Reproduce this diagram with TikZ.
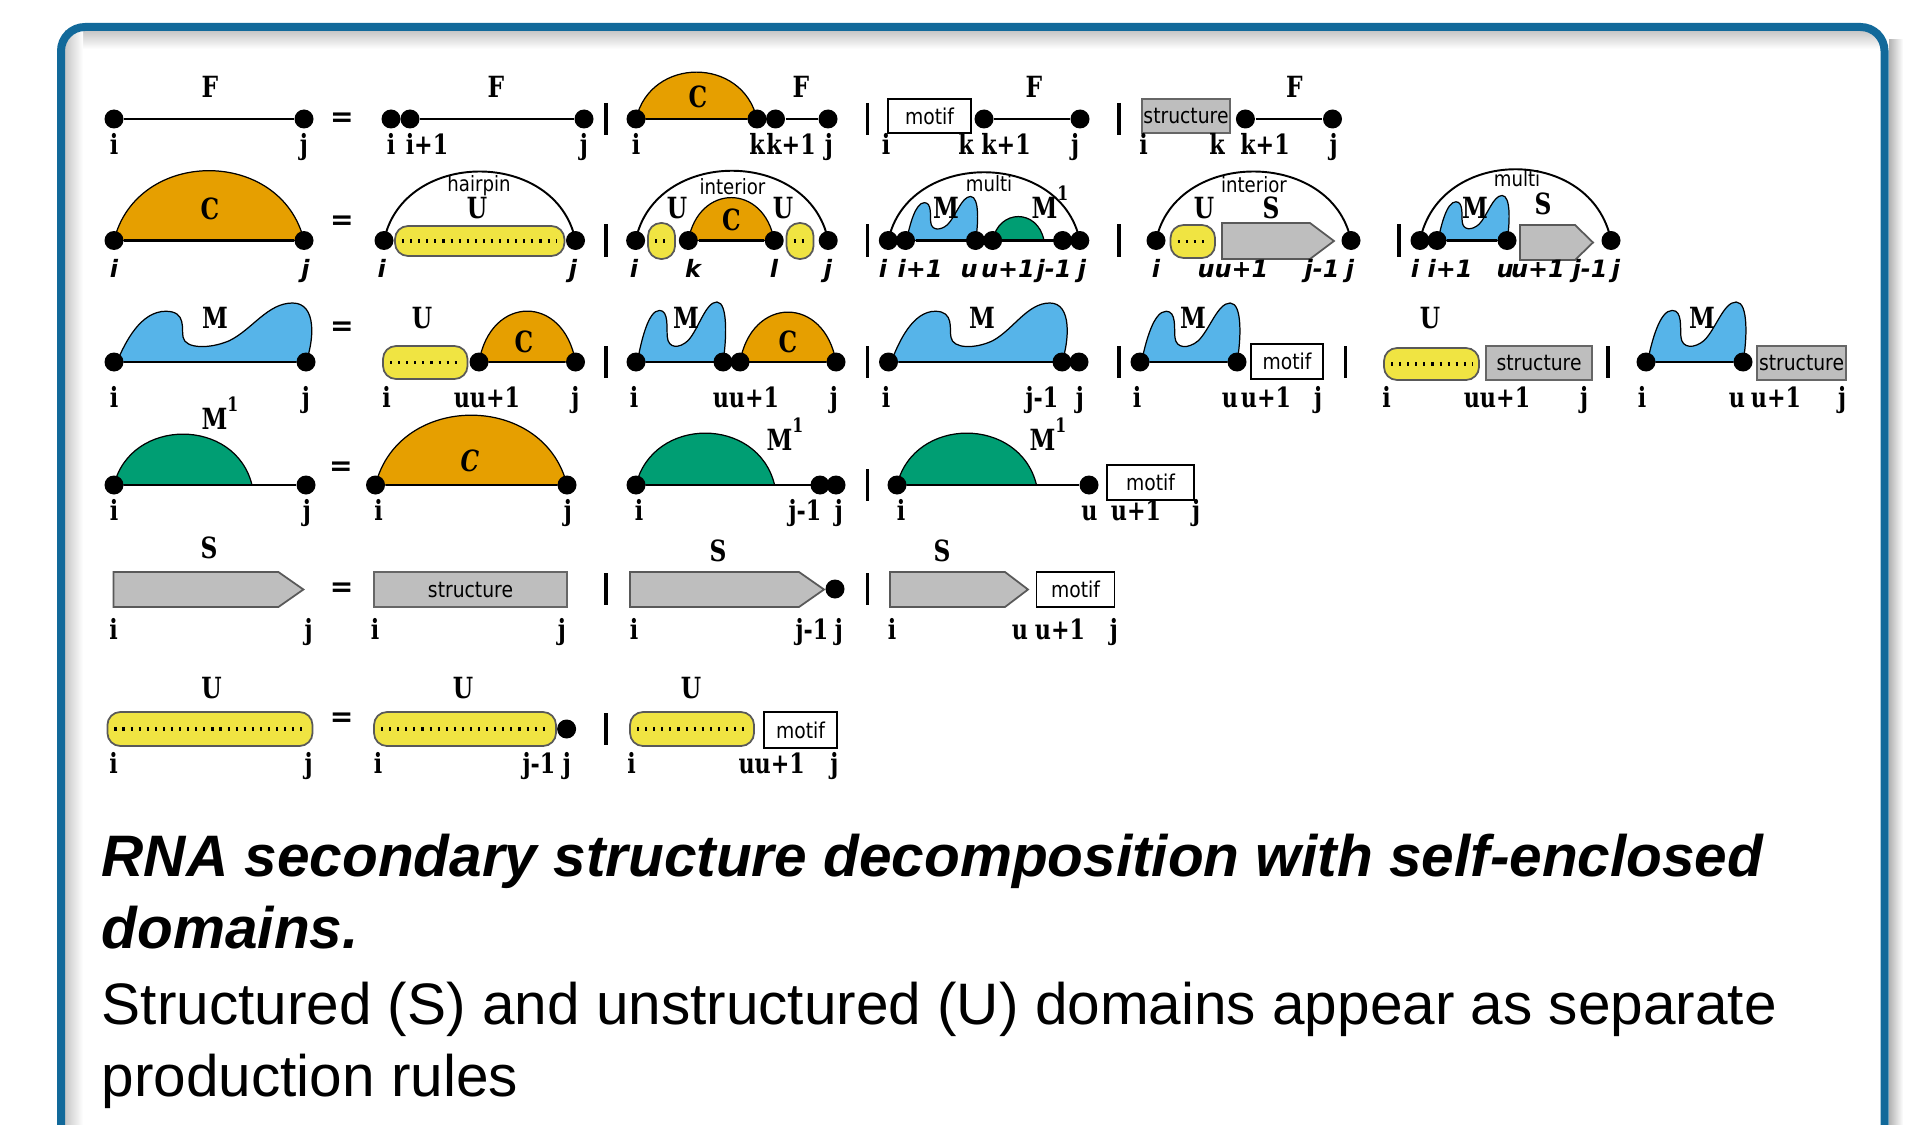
\documentclass[tikz,border=0pt]{standalone}
\usepackage{fontspec}
\setmainfont{Liberation Sans}
\newfontfamily\serlbl[FakeStretch=0.8]{DejaVu Serif}
\newfontfamily\sanslbl[FakeStretch=0.86]{DejaVu Sans}
\newfontfamily\itlbl{DejaVu Sans}

\definecolor{corange}{HTML}{E69F00}
\definecolor{cblue}{HTML}{56B4E9}
\definecolor{cgreen}{HTML}{009E73}
\definecolor{cyellow}{HTML}{F0E442}
\definecolor{cgray}{HTML}{BEBEBE}
\definecolor{frameblue}{HTML}{12699A}

% dome: colour, x0, x1, base y, height
\newcommand\dome[5]{%
  \begin{scope}[shift={(#2,#4)}, xscale=#3-#2, yscale=#5]
    \filldraw[fill=#1, draw=black, line width=0.35pt]
      (0,0) .. controls (0.12,-1.33) and (0.88,-1.33) .. (1,0) -- cycle;
  \end{scope}}
% M blob: x0, x1, base y, height
\newcommand\mblob[4]{%
  \begin{scope}[shift={(#1,#3)}, xscale=#2-#1, yscale=#4]
    \filldraw[fill=cblue, draw=black, line width=0.35pt]
      (0.015,0) .. controls (0.06,-0.35) and (0.14,-0.86) .. (0.27,-0.86)
      .. controls (0.38,-0.86) and (0.35,-0.55) .. (0.36,-0.42)
      .. controls (0.37,-0.22) and (0.5,-0.22) .. (0.6,-0.36)
      .. controls (0.72,-0.55) and (0.8,-1) .. (0.93,-1)
      .. controls (1.06,-1) and (1.04,-0.35) .. (1,0) -- cycle;
  \end{scope}}
% S arrow: x0, x1, top, bottom, tip
\newcommand\spent[5]{%
  \filldraw[fill=cgray, draw=black!65, line width=0.5pt]
    (#1,#3) -- (#2-#5,#3) -- (#2,{(#3+#4)/2}) -- (#2-#5,#4) -- (#1,#4) -- cycle;}
% U capsule: x0, x1, top, bottom
\newcommand\ucaps[4]{%
  \filldraw[fill=cyellow, draw=black!65, line width=0.5pt, rounded corners=1.3mm]
    (#1,#3) rectangle (#2,#4);
  \draw[line width=0.9pt, dash pattern=on 0.6pt off 1.7pt]
    (#1+7,{(#3+#4)/2}) -- (#2-7,{(#3+#4)/2});}
\newcommand\Mone{M\raisebox{0.6em}{\fontsize{5.6}{6}\selectfont 1}}

\begin{document}
\begin{tikzpicture}[x=0.1mm, y=-0.1mm,
  bp/.style={circle, fill=black, inner sep=0pt, minimum size=1.9mm},
  nt/.style={font=\serlbl\bfseries\fontsize{8.3}{9}\selectfont, anchor=base, inner sep=0pt},
  ix/.style={font=\serlbl\bfseries\fontsize{7.9}{9}\selectfont, anchor=base, inner sep=0pt},
  ixit/.style={font=\itlbl\bfseries\itshape\fontsize{6.8}{8}\selectfont, anchor=base, inner sep=0pt},
  word/.style={font=\sanslbl\fontsize{6}{7}\selectfont, anchor=base, inner sep=0pt},
  eqs/.style={font=\itlbl\bfseries\fontsize{8}{9}\selectfont, anchor=base, inner sep=0pt},
  vbar/.style={line width=1pt},
  bline/.style={line width=0.7pt},
  loopline/.style={line width=0.55pt},
  motifbox/.style={draw=black, fill=white, line width=0.5pt, inner sep=0pt, font=\sanslbl\fontsize{6.2}{7}\selectfont},
  structbox/.style={draw=black!60, fill=cgray, line width=0.5pt, inner sep=0pt, font=\sanslbl\fontsize{6.2}{7}\selectfont},
  captxt/.style={anchor=base west, inner sep=0pt}]

\useasboundingbox (0,0) rectangle (1924,1125);
\clip (0,0) rectangle (1924,1125);
\fill[white] (0,0) rectangle (1924,1125);

% Frame with its shadows
\shade[left color=black!30, right color=white] (1889,40) rectangle (1903,1125);
\shade[top color=black!22, bottom color=white] (65,31) rectangle (1880,49);
\shade[left color=black!22, right color=white] (65,31) rectangle (83,1125);
\draw[frameblue, line width=0.8mm, rounded corners=2.4mm] (61,27) rectangle (1884.5,1200);

% Row F
\node[bp] (f0i) at (114,119) {};
\node[bp] (f0j) at (304,119) {};
\draw[bline] (f0i) -- (f0j);
\node[nt] (f0F) at (210,98) {F};
\node[ix] (f0li) at (114,154) {i};
\node[ix] (f0lj) at (304,154) {j};
\node[eqs] (eq1) at (342,127) {=};

\node[bp] (f1i) at (391,119) {};
\node[bp] (f1i1) at (410,119) {};
\node[bp] (f1j) at (584,119) {};
\draw[bline] (f1i1) -- (f1j);
\node[nt] (f1F) at (496,98) {F};
\node[ix] (f1li) at (391,154) {i};
\node[ix] (f1li1) at (427,154) {i+1};
\node[ix] (f1lj) at (584,154) {j};
\draw[vbar] (606,103) -- (606,135);

\dome{corange}{636}{757}{119}{47}
\node[bp] (f2i) at (636,119) {};
\node[bp] (f2k) at (757,119) {};
\node[bp] (f2k1) at (775.5,119) {};
\node[bp] (f2j) at (828,119) {};
\draw[bline] (f2i) -- (f2k) (f2k1) -- (f2j);
\node[nt] (f2C) at (698,108) {C};
\node[nt] (f2F) at (801,98) {F};
\node[ix] (f2li) at (636,154) {i};
\node[ix] (f2lk) at (757,154) {k};
\node[ix] (f2lk1) at (791,154) {k+1};
\node[ix] (f2lj) at (829,154) {j};
\draw[vbar] (867.5,103) -- (867.5,135);

\node[motifbox, minimum width=8.3mm, minimum height=3.4mm] (f3m) at (929.5,116) {motif};
\node[bp] (f3k1) at (984,119) {};
\node[bp] (f3j) at (1080,119) {};
\draw[bline] (f3k1) -- (f3j);
\node[nt] (f3F) at (1034,98) {F};
\node[ix] (f3li) at (886,154) {i};
\node[ix] (f3lk) at (966,154) {k};
\node[ix] (f3lk1) at (1006,154) {k+1};
\node[ix] (f3lj) at (1075,154) {j};
\draw[vbar] (1119,103) -- (1119,135);

\node[structbox, minimum width=8.75mm, minimum height=3.4mm] (f4s) at (1186,116) {structure};
\node[bp] (f4k1) at (1245.4,119) {};
\node[bp] (f4j) at (1332.5,119) {};
\draw[bline] (f4k1) -- (f4j);
\node[nt] (f4F) at (1294.5,98) {F};
\node[ix] (f4li) at (1143.6,154) {i};
\node[ix] (f4lk) at (1217,154) {k};
\node[ix] (f4lk1) at (1265,154) {k+1};
\node[ix] (f4lj) at (1333.7,154) {j};

% Row C
\dome{corange}{114}{304}{240.5}{70}
\node[bp] (c0i) at (114,240.5) {};
\node[bp] (c0j) at (304,240.5) {};
\draw[bline] (c0i) -- (c0j);
\node[nt] (c0C) at (210,219.5) {C};
\node[ixit] (c0li) at (114,277) {i};
\node[ixit] (c0lj) at (305.5,277) {j};
\node[eqs] (eq2) at (342,230) {=};

\ucaps{395}{564.4}{226}{256}
\node[bp] (c1i) at (384,240.5) {};
\node[bp] (c1j) at (575.5,240.5) {};
\draw[loopline] (c1i.center) .. controls +(19,-92) and +(-19,-92) .. (c1j.center);
\node[word] (c1w) at (479,192) {hairpin};
\node[nt] (c1U) at (477,218) {U};
\node[ixit] (c1li) at (381.6,277) {i};
\node[ixit] (c1lj) at (573,277) {j};
\draw[vbar] (606,224) -- (606,257);

\ucaps{648}{675}{223}{259}
\ucaps{786.5}{813.5}{223}{259}
\dome{corange}{688.3}{774.2}{240.5}{43}
\node[bp] (c2i) at (635.6,240.5) {};
\node[bp] (c2k) at (688.3,240.5) {};
\node[bp] (c2l) at (774.2,240.5) {};
\node[bp] (c2j) at (828.2,240.5) {};
\draw[bline] (c2k) -- (c2l);
\draw[loopline] (c2i.center) .. controls +(19,-93) and +(-19,-93) .. (c2j.center);
\node[word] (c2w) at (732.5,195) {interior};
\node[nt] (c2U1) at (677,218) {U};
\node[nt] (c2U2) at (783,218) {U};
\node[nt] (c2C) at (731.3,230.5) {C};
\node[ixit] (c2li) at (634,277) {i};
\node[ixit] (c2lk) at (693,277) {k};
\node[ixit] (c2ll) at (774,277) {l};
\node[ixit] (c2lj) at (828,277) {j};
\draw[vbar] (867.5,224) -- (867.5,257);

\mblob{905.5}{975.5}{240.5}{44}
\dome{cgreen}{992.6}{1044}{240.5}{24}
\node[bp] (c3i) at (888.3,240.5) {};
\node[bp] (c3i1) at (905.5,240.5) {};
\node[bp] (c3u) at (975.5,240.5) {};
\node[bp] (c3u1) at (992.6,240.5) {};
\node[bp] (c3j1) at (1062.6,240.5) {};
\node[bp] (c3j) at (1079.8,240.5) {};
\draw[bline] (c3i1) -- (c3j);
\draw[loopline] (c3i.center) .. controls +(19,-91) and +(-19,-91) .. (c3j.center);
\node[word] (c3w) at (989,192) {multi};
\node[nt] (c3M) at (946,218) {M};
\node[nt] (c3M1) at (1050,218) {\Mone};
\node[ixit] (c3li) at (883,277) {i};
\node[ixit] (c3li1) at (920,277) {i+1};
\node[ixit] (c3lu) at (969,277) {u};
\node[ixit] (c3lu1) at (1008,277) {u+1};
\node[ixit] (c3lj1) at (1054,277) {j-1};
\node[ixit] (c3lj) at (1082,277) {j};
\draw[vbar] (1119,224) -- (1119,257);

\ucaps{1170.5}{1215}{225}{258}
\spent{1222}{1334}{223}{259}{24}
\node[bp] (c4i) at (1156,240.5) {};
\node[bp] (c4j) at (1351,240.5) {};
\draw[loopline] (c4i.center) .. controls +(19,-92) and +(-19,-92) .. (c4j.center);
\node[word] (c4w) at (1254,193) {interior};
\node[nt] (c4U) at (1204,218) {U};
\node[nt] (c4S) at (1271,218) {S};
\node[ixit] (c4li) at (1156,277) {i};
\node[ixit] (c4lu) at (1233,277) {uu+1};
\node[ixit] (c4lj1) at (1322,277) {j-1};
\node[ixit] (c4lj) at (1350,277) {j};
\draw[vbar] (1399,224) -- (1399,257);

\mblob{1437}{1507}{240.5}{45}
\spent{1520}{1593}{225}{260}{18}
\node[bp] (c5i) at (1420,240.5) {};
\node[bp] (c5i1) at (1437,240.5) {};
\node[bp] (c5u) at (1507,240.5) {};
\node[bp] (c5j) at (1611,240.5) {};
\draw[bline] (c5i1) -- (c5u);
\draw[loopline] (c5i.center) .. controls +(19,-95) and +(-19,-95) .. (c5j.center);
\node[word] (c5w) at (1517,187) {multi};
\node[nt] (c5M) at (1475,218) {M};
\node[nt] (c5S) at (1543,214) {S};
\node[ixit] (c5li) at (1415,277) {i};
\node[ixit] (c5li1) at (1450,277) {i+1};
\node[ixit] (c5lu) at (1505,277) {u};
\node[ixit] (c5lu1) at (1538,277) {u+1};
\node[ixit] (c5lj1) at (1590,277) {j-1};
\node[ixit] (c5lj) at (1616,277) {j};

% Row M
\mblob{114}{306}{362}{59}
\node[bp] (m0i) at (114,362) {};
\node[bp] (m0j) at (306,362) {};
\draw[bline] (m0i) -- (m0j);
\node[nt] (m0M) at (215,328) {M};
\node[ix] (m0li) at (114,407) {i};
\node[ix] (m0lj) at (306,407) {j};
\node[eqs] (eq3) at (342,335) {=};

\ucaps{383}{467.5}{346}{379}
\dome{corange}{479}{575.5}{362}{51}
\node[bp] (m1u1) at (479,362) {};
\node[bp] (m1j) at (575.5,362) {};
\draw[bline] (m1u1) -- (m1j);
\node[nt] (m1U) at (422,328) {U};
\node[nt] (m1C) at (524,352) {C};
\node[ix] (m1li) at (386.5,407) {i};
\node[ix] (m1lu) at (487,407) {uu+1};
\node[ix] (m1lj) at (575.5,407) {j};
\draw[vbar] (606,346) -- (606,378);

\mblob{636}{723}{362}{60}
\dome{corange}{740}{836}{362}{50}
\node[bp] (m2i) at (636,362) {};
\node[bp] (m2u) at (723,362) {};
\node[bp] (m2u1) at (740,362) {};
\node[bp] (m2j) at (836,362) {};
\draw[bline] (m2i) -- (m2j);
\node[nt] (m2M) at (686,328) {M};
\node[nt] (m2C) at (788,352) {C};
\node[ix] (m2li) at (634,407) {i};
\node[ix] (m2lu) at (746,407) {uu+1};
\node[ix] (m2lj) at (834,407) {j};
\draw[vbar] (867.5,346) -- (867.5,378);

\mblob{888.5}{1062}{362}{59}
\node[bp] (m3i) at (888.5,362) {};
\node[bp] (m3j1) at (1062,362) {};
\node[bp] (m3j) at (1079,362) {};
\draw[bline] (m3i) -- (m3j);
\node[nt] (m3M) at (982,328) {M};
\node[ix] (m3li) at (886,407) {i};
\node[ix] (m3lj1) at (1042,407) {j-1};
\node[ix] (m3lj) at (1080,407) {j};
\draw[vbar] (1119,346) -- (1119,378);

\mblob{1140}{1237}{362}{59}
\node[motifbox, minimum width=7.2mm, minimum height=3.5mm] (m4m) at (1287,361.5) {motif};
\node[bp] (m4i) at (1140,362) {};
\node[bp] (m4u) at (1237,362) {};
\draw[bline] (m4i) -- (m4u);
\node[nt] (m4M) at (1193,328) {M};
\node[ix] (m4li) at (1137,407) {i};
\node[ix] (m4lu) at (1230,407) {u};
\node[ix] (m4lu1) at (1266,407) {u+1};
\node[ix] (m4lj) at (1318,407) {j};
\draw[vbar] (1345.5,346) -- (1345.5,378);

\ucaps{1384}{1479}{348}{380}
\node[structbox, minimum width=10.6mm, minimum height=3.4mm] (m5s) at (1539,363) {structure};
\node[nt] (m5U) at (1430,328) {U};
\node[ix] (m5li) at (1386.5,407) {i};
\node[ix] (m5lu) at (1497,407) {uu+1};
\node[ix] (m5lj) at (1584,407) {j};
\draw[vbar] (1608,346) -- (1608,378);

\mblob{1646}{1743}{362}{60}
\node[structbox, minimum width=8.9mm, minimum height=3.4mm] (m6s) at (1801.5,363) {structure};
\node[bp] (m6i) at (1646,362) {};
\node[bp] (m6u) at (1743,362) {};
\draw[bline] (m6i) -- (m6u);
\node[nt] (m6M) at (1702,328) {M};
\node[ix] (m6li) at (1642,407) {i};
\node[ix] (m6lu) at (1737,407) {u};
\node[ix] (m6lu1) at (1776,407) {u+1};
\node[ix] (m6lj) at (1842,407) {j};

% Row M1
\dome{cgreen}{114}{252}{485}{51}
\node[bp] (g0i) at (114,485) {};
\node[bp] (g0j) at (306,485) {};
\draw[bline] (g0i) -- (g0j);
\node[nt] (g0M) at (220,429) {\Mone};
\node[ix] (g0li) at (114,520) {i};
\node[ix] (g0lj) at (307,520) {j};
\node[eqs] (eq4) at (341,475) {=};

\dome{corange}{375.5}{567}{485}{70}
\node[bp] (g1i) at (375.5,485) {};
\node[bp] (g1j) at (567,485) {};
\draw[bline] (g1i) -- (g1j);
\node[nt, font=\serlbl\bfseries\itshape\fontsize{8.3}{9}\selectfont] (g1C) at (470,471) {C};
\node[ix] (g1li) at (378.6,520) {i};
\node[ix] (g1lj) at (568,520) {j};

\dome{cgreen}{636}{774.6}{485}{52}
\node[bp] (g2i) at (636,485) {};
\node[bp] (g2j1) at (820,485) {};
\node[bp] (g2j) at (836,485) {};
\draw[bline] (g2i) -- (g2j);
\node[nt] (g2M) at (785,450) {\Mone};
\node[ix] (g2li) at (639,520) {i};
\node[ix] (g2lj1) at (805,520) {j-1};
\node[ix] (g2lj) at (839,520) {j};
\draw[vbar] (867.5,469) -- (867.5,501);

\dome{cgreen}{897}{1036.5}{485}{52}
\node[motifbox, minimum width=8.7mm, minimum height=3.5mm] (g3m) at (1150.5,482.5) {motif};
\node[bp] (g3i) at (897,485) {};
\node[bp] (g3u) at (1089,485) {};
\draw[bline] (g3i) -- (g3u);
\node[nt] (g3M) at (1048,450) {\Mone};
\node[ix] (g3li) at (901,520) {i};
\node[ix] (g3lu) at (1089.5,520) {u};
\node[ix] (g3lu1) at (1136,520) {u+1};
\node[ix] (g3lj) at (1196,520) {j};

% Row S
\spent{113.6}{303.4}{572}{607}{25}
\node[nt] (s0S) at (209,558) {S};
\node[ix] (s0li) at (113.6,639) {i};
\node[ix] (s0lj) at (308.7,639) {j};
\node[eqs] (eq5) at (341.6,596) {=};

\node[structbox, minimum width=19.3mm, minimum height=3.5mm] (s1s) at (470.5,589.5) {structure};
\node[ix] (s1li) at (375,639) {i};
\node[ix] (s1lj) at (562,639) {j};
\draw[vbar] (606,573) -- (606,605);

\spent{630}{824}{572}{607}{25}
\node[bp] (s2j) at (835,589) {};
\node[nt] (s2S) at (718,561) {S};
\node[ix] (s2li) at (634,639) {i};
\node[ix] (s2lj1) at (812,639) {j-1};
\node[ix] (s2lj) at (839,639) {j};
\draw[vbar] (867.5,573) -- (867.5,605);

\spent{890}{1028}{572}{607}{23}
\node[motifbox, minimum width=7.8mm, minimum height=3.5mm] (s3m) at (1075.5,589.5) {motif};
\node[nt] (s3S) at (942,561) {S};
\node[ix] (s3li) at (892,639) {i};
\node[ix] (s3lu) at (1020,639) {u};
\node[ix] (s3lu1) at (1060,639) {u+1};
\node[ix] (s3lj) at (1114,639) {j};

% Row U
\ucaps{107.4}{312.5}{712}{746}
\node[nt] (u0U) at (211.5,698) {U};
\node[ix] (u0li) at (113.6,773) {i};
\node[ix] (u0lj) at (308.7,773) {j};
\node[eqs] (eq6) at (341.6,726) {=};

\ucaps{374}{556}{712}{746}
\node[bp] (u1j) at (566.6,729) {};
\node[nt] (u1U) at (463,698) {U};
\node[ix] (u1li) at (378,773) {i};
\node[ix] (u1lj1) at (539,773) {j-1};
\node[ix] (u1lj) at (567,773) {j};
\draw[vbar] (606,713) -- (606,745);

\ucaps{630}{754}{712}{746}
\node[motifbox, minimum width=7.3mm, minimum height=3.6mm] (u2m) at (800.5,730) {motif};
\node[nt] (u2U) at (691,698) {U};
\node[ix] (u2li) at (631.7,773) {i};
\node[ix] (u2lu) at (771.7,773) {uu+1};
\node[ix] (u2lj) at (834.5,773) {j};

% Caption
\node[captxt, font=\bfseries\itshape\fontsize{16.65}{20}\selectfont] (cap1) at (101,876) {RNA secondary structure decomposition with self-enclosed};
\node[captxt, font=\bfseries\itshape\fontsize{16.65}{20}\selectfont] (cap2) at (101,948) {domains.};
\node[captxt, font=\fontsize{16.65}{20}\selectfont] (cap3) at (101,1024) {Structured (S) and unstructured (U) domains appear as separate};
\node[captxt, font=\fontsize{16.65}{20}\selectfont] (cap4) at (101,1096) {production rules};
\end{tikzpicture}
\end{document}
